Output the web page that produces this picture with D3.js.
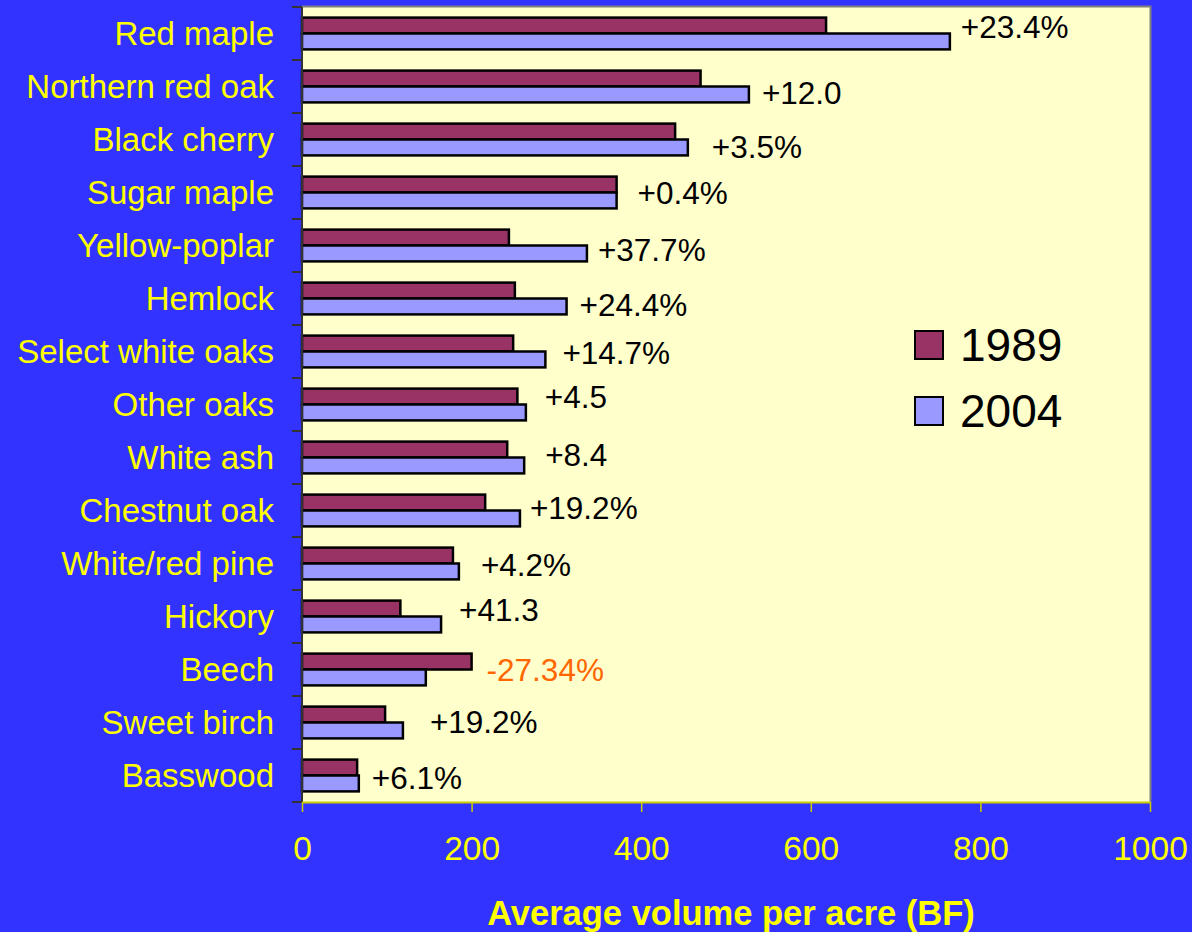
<!DOCTYPE html>
<html>
<head>
<meta charset="utf-8">
<script src="https://cdn.jsdelivr.net/npm/d3@7"></script>
<style>
  html, body { margin: 0; padding: 0; background: #3333FF; }
  svg { display: block; font-family: "Liberation Sans", Arial, sans-serif; }
</style>
</head>
<body>
<svg width="1192" height="932"></svg>
<script>
// species, top to bottom
let species = ["Red maple", "Northern red oak", "Black cherry", "Sugar maple", "Yellow-poplar",
    "Hemlock", "Select white oaks", "Other oaks", "White ash", "Chestnut oak",
    "White/red pine", "Hickory", "Beech", "Sweet birch", "Basswood"];
let vol1989 = [618, 470, 440, 371, 244, 251, 249, 254, 242, 216, 178, 116, 200, 98, 65];
let vol2004 = [764, 527, 455, 371, 336, 312, 287, 264, 262, 257, 185, 164, 146, 119, 67];
let changeLabels = ["+23.4%", "+12.0", "+3.5%", "+0.4%", "+37.7%", "+24.4%", "+14.7%", "+4.5",
    "+8.4", "+19.2%", "+4.2%", "+41.3", "-27.34%", "+19.2%", "+6.1%"];
let xTicks = [0, 200, 400, 600, 800, 1000];
let years = ["1989", "2004"];

// hand nudges of the change labels (they were placed by hand in the original)
let labelNudge = [[-5, -7], [-3, 6], [8, 7], [5, 0], [-5, 4], [-3, 6], [1, 1], [3, -8],
    [5, -3], [-6, -3], [6, 1], [2, -7], [-1, 0], [11, -1], [-3, 2]];

let colors = {"1989": "#993366", "2004": "#9999FF"};

let margin = {left: 302, right: 42, top: 7, bottom: 130},
    svgWidth = 1192,
    svgHeight = 932,
    w = svgWidth - margin.left - margin.right,
    h = svgHeight - margin.top - margin.bottom;

let svg = d3.select("svg");

let g = svg.append("g")
    .attr("transform", "translate(" + margin.left + "," + margin.top + ")");

let x = d3.scaleLinear().domain([0, 1000]).range([0, w]);
let y = d3.scaleBand().domain(species).range([0, h]).paddingInner(0.4).paddingOuter(0.2);
let yInner = d3.scaleBand().domain(years).range([0, y.bandwidth()]);

// plot area (with gray border top/right)
g.append("rect")
    .attr("width", w).attr("height", h)
    .attr("fill", "#FFFFCC");
g.append("path")
    .attr("d", "M0,-0.5H" + (w + 0.5) + "V" + h)
    .attr("fill", "none").attr("stroke", "#808080").attr("stroke-width", 2);

// bars
let rows = species.map((s, i) => ({name: s, v: [vol1989[i], vol2004[i]], i: i}));

let grp = g.selectAll("g.row").data(rows).enter()
    .append("g")
    .attr("class", "row")
    .attr("transform", d => "translate(0," + y(d.name) + ")");

grp.selectAll("rect")
    .data(d => years.map((yr, k) => ({yr: yr, val: d.v[k]})))
    .enter().append("rect")
    .attr("x", 0)
    .attr("y", d => yInner(d.yr))
    .attr("width", d => x(d.val))
    .attr("height", yInner.bandwidth())
    .attr("fill", d => colors[d.yr])
    .attr("stroke", "#000")
    .attr("stroke-width", 2.5);

// change labels
grp.append("text")
    .attr("x", d => x(Math.max(d.v[0], d.v[1])) + 16 + labelNudge[d.i][0])
    .attr("y", d => y.bandwidth() / 2 + labelNudge[d.i][1])
    .attr("dy", "0.35em")
    .attr("font-size", 31.5)
    .attr("fill", d => changeLabels[d.i].startsWith("-") ? "#FF6600" : "#000")
    .text(d => changeLabels[d.i]);

// left axis: category labels, ticks at band boundaries
let yAxis = g.append("g");
let step = h / species.length;
yAxis.append("line")
    .attr("x1", 0).attr("x2", 0).attr("y1", 0).attr("y2", h)
    .attr("stroke", "#333").attr("stroke-width", 2);
yAxis.selectAll("line.tick")
    .data(d3.range(species.length + 1))
    .enter().append("line")
    .attr("class", "tick")
    .attr("x1", -10).attr("x2", 0)
    .attr("y1", d => d * step).attr("y2", d => d * step)
    .attr("stroke", "#333").attr("stroke-width", 2);
yAxis.selectAll("text")
    .data(species)
    .enter().append("text")
    .attr("x", -28)
    .attr("y", d => y(d) + y.bandwidth() / 2)
    .attr("dy", "0.35em")
    .attr("text-anchor", "end")
    .attr("font-size", 33)
    .attr("fill", "#FFFF00")
    .text(d => d);

// bottom axis
let xAxis = g.append("g")
    .attr("transform", "translate(0," + h + ")")
    .call(d3.axisBottom(x).tickValues(xTicks).tickFormat(d3.format("d"))
        .tickSize(10).tickPadding(24).tickSizeOuter(0));
xAxis.select(".domain").attr("stroke", "#CCCC00").attr("stroke-width", 2);
xAxis.selectAll(".tick line").attr("stroke", "#CCCC00").attr("stroke-width", 1.5);
xAxis.selectAll(".tick text")
    .attr("fill", "#FFFF00")
    .attr("font-size", 33.5)
    .attr("font-family", "Liberation Sans, Arial, sans-serif");

// axis title
svg.append("text")
    .attr("x", margin.left + w / 2 + 5)
    .attr("y", 925)
    .attr("text-anchor", "middle")
    .attr("font-size", 34.5)
    .attr("font-weight", "bold")
    .attr("fill", "#FFFF00")
    .text("Average volume per acre (BF)");

// legend
let legend = svg.append("g").attr("transform", "translate(915,320)");
let li = legend.selectAll("g").data(years).enter()
    .append("g")
    .attr("transform", (d, i) => "translate(0," + i * 66 + ")");
li.append("rect")
    .attr("x", 0).attr("y", 11)
    .attr("width", 28).attr("height", 28)
    .attr("fill", d => colors[d])
    .attr("stroke", "#000").attr("stroke-width", 2);
li.append("text")
    .attr("x", 45).attr("y", 25)
    .attr("dy", "0.35em")
    .attr("font-size", 46)
    .attr("fill", "#000")
    .text(d => d);
</script>
</body>
</html>
